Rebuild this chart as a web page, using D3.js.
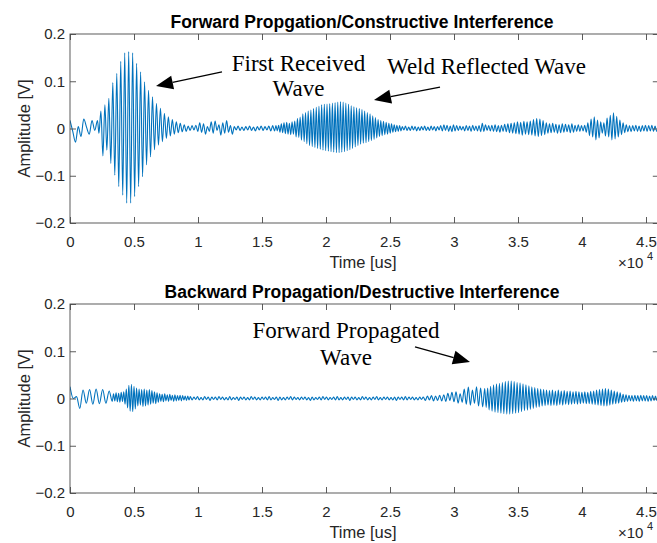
<!DOCTYPE html>
<html>
<head>
<meta charset="utf-8">
<script src="https://cdn.jsdelivr.net/npm/d3@7"></script>
<style>
  html, body { margin: 0; padding: 0; background: #fff; }
  svg { display: block; }
</style>
</head>
<body>
<svg id="chart" width="657" height="543"></svg>
<script>
// ---------------------------------------------------------------------------
// Recorded traces. Time in microseconds, amplitude in volts.
// Each trace is stored as stretches of successive peaks and troughs; a
// stretch starts at the given time and its extrema follow at a fixed spacing.
// ---------------------------------------------------------------------------
const panelTitles = [
  "Forward Propgation/Constructive Interference",
  "Backward Propagation/Destructive Interference"
];

const fwdStarts  = [0, 2260, 9235, 16090, 25960];
const fwdSpacing = [215, 155, 150, 105, 125];
const fwdPeaks = [
  // start-up ringing
  [0.017, -0.006, -0.029, 0.004, -0.017, 0.020, 0.003, -0.012, 0.017, -0.004, 0.017],
  // first received wave
  [-0.010, 0.037, -0.058, 0.050, -0.046, 0.064, -0.074, 0.097, -0.099, 0.117,
   -0.123, 0.142, -0.141, 0.160, -0.158, 0.163, -0.158, 0.160, -0.144, 0.138,
   -0.123, 0.120, -0.102, 0.099, -0.077, 0.081, -0.060, 0.067, -0.045, 0.053,
   -0.035, 0.043, -0.028, 0.032, -0.021, 0.025, -0.016, 0.019, -0.012, 0.014,
   -0.009, 0.011, -0.007, 0.008, -0.006],
  // quiet stretch
  [0.005, -0.004, 0.006, -0.003, 0.007, -0.006, 0.012, -0.008, 0.010, -0.012,
   0.004, -0.006, 0.014, -0.010, 0.016, -0.004, 0.008, -0.014, 0.012, -0.010,
   0.017, -0.008, 0.006, -0.012, 0.004, -0.003, 0.005, -0.004, 0.003, -0.004,
   0.004, -0.003, 0.005, -0.004, 0.003, -0.005, 0.004, -0.003, 0.005, -0.004,
   0.004, -0.003, 0.005, -0.005, 0.006, -0.005],
  // weld reflected wave
  [0.006, -0.005, 0.007, -0.008, 0.010, -0.009, 0.012, -0.011, 0.013, -0.012,
   0.011, -0.013, 0.014, -0.012, 0.016, -0.018, 0.021, -0.019, 0.024, -0.025,
   0.031, -0.028, 0.034, -0.032, 0.037, -0.036, 0.039, -0.038, 0.042, -0.040,
   0.045, -0.042, 0.047, -0.044, 0.050, -0.046, 0.051, -0.047, 0.052, -0.048,
   0.053, -0.049, 0.054, -0.050, 0.055, -0.051, 0.056, -0.051, 0.057, -0.050,
   0.056, -0.049, 0.054, -0.047, 0.051, -0.045, 0.048, -0.042, 0.046, -0.039,
   0.044, -0.036, 0.042, -0.033, 0.040, -0.031, 0.037, -0.030, 0.034, -0.028,
   0.031, -0.026, 0.027, -0.023, 0.023, -0.020, 0.019, -0.017, 0.017, -0.015,
   0.015, -0.013, 0.013, -0.012, 0.011, -0.010, 0.010, -0.008, 0.008, -0.007,
   0.007, -0.006, 0.006, -0.005],
  // late arrivals
  [0.004, -0.003, 0.005, -0.004, 0.003, -0.004, 0.005, -0.003,
   0.004, -0.005, 0.003, -0.004, 0.004, -0.003, 0.005, -0.004,
   0.003, -0.004, 0.005, -0.003, 0.004, -0.005, 0.004, -0.003,
   0.006, -0.005, 0.008, -0.004, 0.007, -0.006, 0.005, -0.007,
   0.008, -0.005, 0.006, -0.004, 0.005, -0.003, 0.004, -0.005,
   0.006, -0.004, 0.005, -0.006, 0.007, -0.004, 0.005, -0.005,
   0.006, -0.007, 0.011, -0.006, 0.008, -0.004, 0.006, -0.005,
   0.007, -0.006, 0.008, -0.007, 0.006, -0.008, 0.007, -0.006,
   0.009, -0.007, 0.010, -0.009, 0.011, -0.010, 0.012, -0.011,
   0.014, -0.012, 0.013, -0.014, 0.015, -0.012, 0.014, -0.013,
   0.016, -0.014, 0.019, -0.016, 0.021, -0.017, 0.020, -0.015,
   0.017, -0.013, 0.012, -0.010, 0.010, -0.009, 0.011, -0.008,
   0.009, -0.010, 0.008, -0.009, 0.010, -0.008, 0.009, -0.007,
   0.008, -0.009, 0.010, -0.008, 0.007, -0.006, 0.008, -0.006,
   0.006, -0.005, 0.007, -0.008, 0.012, -0.015, 0.020, -0.018,
   0.025, -0.024, 0.018, -0.020, 0.014, -0.010, 0.012, -0.016,
   0.022, -0.018, 0.028, -0.024, 0.033, -0.022, 0.026, -0.018,
   0.018, -0.013, 0.012, -0.009, 0.008, -0.007, 0.006, -0.007,
   0.006, -0.005, 0.007, -0.006, 0.005, -0.007, 0.006, -0.005,
   0.007, -0.006, 0.006, -0.005, 0.007, -0.006, 0.005, -0.006,
   0.004]
];

const bwdStarts  = [0, 3300, 9540, 27760, 32515];
const bwdSpacing = [255, 100, 140, 160, 115];
const bwdPeaks = [
  // start-up ringing
  [0.025, 0.000, 0.004, -0.021, 0.018, -0.010, 0.019, -0.012, 0.020, -0.011, 0.019, -0.010, 0.016],
  // residual of the first wave
  [-0.006, 0.010, -0.005, 0.012, -0.007, 0.011, -0.008, 0.013, -0.006, 0.014,
   -0.012, 0.020, -0.020, 0.028, -0.027, 0.030, -0.028, 0.026, -0.022, 0.022,
   -0.016, 0.020, -0.014, 0.019, -0.017, 0.020, -0.016, 0.018, -0.014, 0.019,
   -0.012, 0.017, -0.010, 0.014, -0.011, 0.012, -0.008, 0.010, -0.006, 0.009,
   -0.007, 0.010, -0.005, 0.008, -0.006, 0.009, -0.004, 0.007, -0.006, 0.008,
   -0.005, 0.006, -0.004, 0.007, -0.005, 0.006, -0.003, 0.005, -0.004, 0.005,
   -0.003, 0.004],
  // quiet stretch
  [-0.003, 0.003, -0.002, 0.004, -0.003, 0.002, -0.003, 0.004, -0.002, 0.003,
   -0.004, 0.003, -0.002, 0.003, -0.003, 0.004, -0.002, 0.003, -0.003, 0.002,
   -0.003, 0.004, -0.003, 0.002, -0.002, 0.003, -0.004, 0.003, -0.002, 0.003,
   -0.003, 0.002, -0.003, 0.004, -0.002, 0.003, -0.003, 0.002, -0.003, 0.003,
   -0.002, 0.003, -0.003, 0.004, -0.003, 0.002, -0.002, 0.003, -0.004, 0.003,
   -0.003, 0.002, -0.003, 0.003, -0.002, 0.004, -0.003, 0.003, -0.002, 0.002,
   -0.003, 0.003, -0.002, 0.003, -0.003, 0.002, -0.004, 0.003, -0.003, 0.002,
   -0.002, 0.003, -0.003, 0.004, -0.002, 0.003, -0.003, 0.002, -0.002, 0.003,
   -0.003, 0.004, -0.003, 0.002, -0.003, 0.003, -0.002, 0.003, -0.004, 0.003,
   -0.002, 0.003, -0.003, 0.002, -0.003, 0.004, -0.002, 0.003, -0.003, 0.002,
   -0.003, 0.003, -0.002, 0.004, -0.003, 0.002, -0.003, 0.003, -0.002, 0.003,
   -0.003, 0.002, -0.003, 0.003, -0.004, 0.003, -0.002, 0.003, -0.003, 0.004,
   -0.003, 0.003, -0.002, 0.003, -0.003, 0.002, -0.003, 0.003, -0.002, 0.003],
  // onset of the forward propagated wave
  [-0.004, 0.005, -0.003, 0.006, -0.005, 0.005, -0.004, 0.007, -0.005, 0.008,
   -0.006, 0.011, -0.004, 0.013, -0.007, 0.014, -0.010, 0.010, -0.008, 0.020,
   -0.012, 0.024, -0.014, 0.018, -0.010, 0.025, -0.016, 0.022, -0.018, 0.021],
  // forward propagated wave and its tail
  [-0.019, 0.022, -0.024, 0.026, -0.027, 0.029, -0.029, 0.031,
   -0.030, 0.032, -0.031, 0.034, -0.032, 0.036, -0.033, 0.037,
   -0.033, 0.037, -0.032, 0.036, -0.031, 0.034, -0.030, 0.033,
   -0.028, 0.031, -0.026, 0.029, -0.025, 0.027, -0.023, 0.025,
   -0.021, 0.023, -0.019, 0.021, -0.018, 0.020, -0.016, 0.019,
   -0.015, 0.018, -0.014, 0.017, -0.015, 0.018, -0.014, 0.016,
   -0.015, 0.018, -0.013, 0.016, -0.014, 0.017, -0.012, 0.015,
   -0.013, 0.016, -0.012, 0.014, -0.011, 0.015, -0.012, 0.014,
   -0.011, 0.013, -0.010, 0.014, -0.011, 0.013, -0.011, 0.015,
   -0.012, 0.016, -0.013, 0.018, -0.014, 0.019, -0.015, 0.020,
   -0.016, 0.021, -0.016, 0.020, -0.014, 0.018, -0.012, 0.016,
   -0.011, 0.014, -0.010, 0.012, -0.008, 0.009, -0.007, 0.008,
   -0.006, 0.007, -0.005, 0.006, -0.006, 0.007, -0.005, 0.006,
   -0.006, 0.007, -0.005, 0.006, -0.005, 0.006, -0.006, 0.005,
   -0.005, 0.006, -0.004, 0.005, -0.004, 0.005]
];

// Axis ticks
const xTicks = [0, 5000, 10000, 15000, 20000, 25000, 30000, 35000, 40000, 45000];
const xTickLabels = ["0", "0.5", "1", "1.5", "2", "2.5", "3", "3.5", "4", "4.5"];
const yTicks = [-0.2, -0.1, 0, 0.1, 0.2];
const yTickLabels = ["\u22120.2", "\u22120.1", "0", "0.1", "0.2"];

// Annotations: text anchored in data units (time, amplitude of each line's baseline)
const fwdNoteText  = [["First Received", "Wave"], ["Weld Reflected Wave"]];
const fwdNoteTime  = [17852, 32539];
const fwdNoteLevel = [[0.1217, 0.0688], [0.1153]];
const fwdArrows    = [[11875, 0.1196, 6719, 0.0899], [28906, 0.0878, 23750, 0.0603]];
const bwdNoteText  = [["Forward Propagated", "Wave"]];
const bwdNoteTime  = [21560];
const bwdNoteLevel = [[0.128, 0.0709]];
const bwdArrows    = [[26953, 0.109, 31250, 0.0772]];

// ---------------------------------------------------------------------------
const svg = d3.select("#chart");
svg.append("rect").attr("width", 657).attr("height", 543).attr("fill", "#fff");

const plotLeft = 70, plotRight = 658.8, panelHeight = 189;
const panelTops = [34, 304];
const lineColor = "#0072BD";
const axisColor = "#262626";
const boxColor = "#4a4a4a";
const sans = "'Liberation Sans', Arial, Helvetica, sans-serif";
const serif = "'Liberation Serif', 'Times New Roman', serif";

const x = d3.scaleLinear().domain([0, 46000]).range([plotLeft, plotRight]);

function buildTrace(starts, spacing, peaks) {
  const pts = [];
  starts.forEach((t0, i) => {
    peaks[i].forEach((v, j) => pts.push([t0 + j * spacing[i], v]));
  });
  return pts;
}

const panels = [
  { title: panelTitles[0], data: buildTrace(fwdStarts, fwdSpacing, fwdPeaks),
    noteText: fwdNoteText, noteTime: fwdNoteTime, noteLevel: fwdNoteLevel, arrows: fwdArrows },
  { title: panelTitles[1], data: buildTrace(bwdStarts, bwdSpacing, bwdPeaks),
    noteText: bwdNoteText, noteTime: bwdNoteTime, noteLevel: bwdNoteLevel, arrows: bwdArrows }
];

panels.forEach((p, k) => {
  const top = panelTops[k], bottom = top + panelHeight;
  const y = d3.scaleLinear().domain([-0.2, 0.2]).range([bottom, top]);
  const g = svg.append("g");

  // clip region for the trace
  const clipId = "clip" + k;
  svg.append("clipPath").attr("id", clipId)
    .append("rect").attr("x", plotLeft).attr("y", top)
    .attr("width", plotRight - plotLeft).attr("height", panelHeight);

  // trace
  const line = d3.line()
    .x(d => x(d[0])).y(d => y(d[1]))
    .curve(d3.curveMonotoneX);
  g.append("path")
    .datum(p.data)
    .attr("clip-path", `url(#${clipId})`)
    .attr("fill", "none")
    .attr("stroke", lineColor)
    .attr("stroke-width", 1.1)
    .attr("stroke-linejoin", "round")
    .attr("d", line);

  // axes: ticks point inward on all four sides
  const tickLen = 6;
  const xb = g.append("g").attr("transform", `translate(0,${bottom})`)
    .call(d3.axisBottom(x).tickValues(xTicks)
      .tickFormat((d, i) => xTickLabels[i]).tickSize(-tickLen).tickPadding(13));
  const xt = g.append("g").attr("transform", `translate(0,${top})`)
    .call(d3.axisTop(x).tickValues(xTicks).tickFormat("").tickSize(-tickLen));
  const yl = g.append("g").attr("transform", `translate(${plotLeft},0)`)
    .call(d3.axisLeft(y).tickValues(yTicks)
      .tickFormat((d, i) => yTickLabels[i]).tickSize(-tickLen).tickPadding(5));
  const yr = g.append("g").attr("transform", `translate(${plotRight},0)`)
    .call(d3.axisRight(y).tickValues(yTicks).tickFormat("").tickSize(-tickLen));

  [xb, xt, yl, yr].forEach(a => {
    a.select(".domain").remove();
    a.selectAll(".tick line").attr("stroke", boxColor).attr("stroke-width", 0.9);
    a.selectAll(".tick text")
      .attr("fill", axisColor)
      .style("font-family", sans)
      .style("font-size", "15px");
  });

  // axes box
  g.append("rect")
    .attr("x", plotLeft).attr("y", top)
    .attr("width", plotRight - plotLeft).attr("height", panelHeight)
    .attr("fill", "none").attr("stroke", boxColor).attr("stroke-width", 0.9);

  // title
  g.append("text")
    .attr("x", 362).attr("y", top - 6)
    .attr("text-anchor", "middle")
    .style("font-family", sans).style("font-size", "17.5px").style("font-weight", "bold")
    .attr("fill", "#000")
    .text(p.title);

  // x label and exponent
  g.append("text")
    .attr("x", 363).attr("y", bottom + 45)
    .attr("text-anchor", "middle")
    .style("font-family", sans).style("font-size", "16.5px")
    .attr("fill", axisColor)
    .text("Time [us]");
  g.append("text")
    .attr("x", 618).attr("y", bottom + 45)
    .style("font-family", sans).style("font-size", "15px")
    .attr("fill", axisColor)
    .text("\u00d710");
  g.append("text")
    .attr("x", 647).attr("y", bottom + 37)
    .style("font-family", sans).style("font-size", "11px")
    .attr("fill", axisColor)
    .text("4");

  // y label
  g.append("text")
    .attr("transform", `translate(29.5,${(top + bottom) / 2}) rotate(-90)`)
    .attr("text-anchor", "middle")
    .style("font-family", sans).style("font-size", "16.5px")
    .attr("fill", axisColor)
    .text("Amplitude [V]");

  // annotations
  p.noteText.forEach((lines, i) => {
    lines.forEach((s, j) => {
      g.append("text")
        .attr("x", x(p.noteTime[i])).attr("y", y(p.noteLevel[i][j]))
        .attr("text-anchor", "middle")
        .style("font-family", serif).style("font-size", "23px")
        .attr("fill", "#000")
        .text(s);
    });
  });

  p.arrows.forEach(a => {
    const x0 = x(a[0]), y0 = y(a[1]), x1 = x(a[2]), y1 = y(a[3]);
    const dx = x1 - x0, dy = y1 - y0, len = Math.hypot(dx, dy);
    const ux = dx / len, uy = dy / len;
    const headLen = 17, headHalf = 7;
    const bx = x1 - ux * headLen, by = y1 - uy * headLen;
    g.append("line")
      .attr("x1", x0).attr("y1", y0).attr("x2", bx).attr("y2", by)
      .attr("stroke", "#000").attr("stroke-width", 1.3);
    g.append("path")
      .attr("d", `M${x1},${y1}L${bx - uy * headHalf},${by + ux * headHalf}L${bx + uy * headHalf},${by - ux * headHalf}Z`)
      .attr("fill", "#000");
  });
});
</script>
</body>
</html>
